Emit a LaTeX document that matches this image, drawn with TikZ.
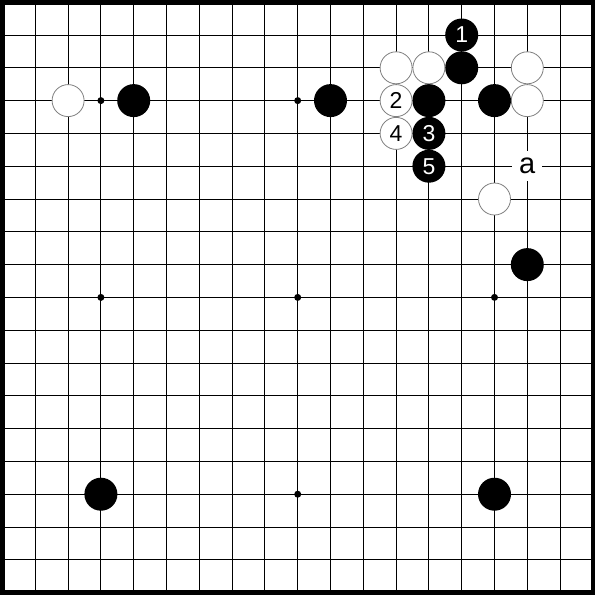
\documentclass[tikz,border=0pt]{standalone}
\usepackage{fontspec}
\setmainfont{Liberation Sans}
\tikzset{
  gridline/.style={line width=0.9pt, black},
  boardedge/.style={line width=4.6pt, black},
  bstone/.style={circle, fill=black, minimum size=33pt, inner sep=0pt, text=white, font=\fontsize{23}{23}\selectfont},
  wstone/.style={circle, fill=white, draw=black!50, line width=0.8pt, minimum size=32pt, inner sep=0pt, text=black, font=\fontsize{23}{23}\selectfont},
  hoshi/.style={circle, fill=black, minimum size=7pt, inner sep=0pt},
  marklabel/.style={fill=white, minimum size=30pt, inner sep=0pt, font=\fontsize{29}{29}\selectfont}
}
\begin{document}
\begin{tikzpicture}[x=32.8pt,y=-32.8pt]
\useasboundingbox[fill=white] (0.9238,0.9329) rectangle +(596pt,-595pt);
% grid
\foreach \i in {2,...,18} {
  \draw[gridline] (\i,1) -- (\i,19);
  \draw[gridline] (1,\i) -- (19,\i);
}
\draw[boardedge] (1,1) rectangle (19,19);
% star points
\foreach \x/\y [count=\k] in {4/4,10/4,16/4,4/10,10/10,16/10,4/16,10/16,16/16}
  \node[hoshi] (h\k) at (\x,\y) {};
% label a
\node[marklabel] (a) at (17,6) {\raisebox{1pt}{a}};
% black stones
\node[bstone] (b1) at (15,2) {1};
\node[bstone] (b2) at (15,3) {};
\node[bstone] (b3) at (5,4) {};
\node[bstone] (b4) at (11,4) {};
\node[bstone] (b5) at (14,4) {};
\node[bstone] (b6) at (16,4) {};
\node[bstone] (b7) at (14,5) {3};
\node[bstone] (b8) at (14,6) {5};
\node[bstone] (b9) at (17,9) {};
\node[bstone] (b10) at (4,16) {};
\node[bstone] (b11) at (16,16) {};
% white stones
\node[wstone] (w1) at (13,3) {};
\node[wstone] (w2) at (14,3) {};
\node[wstone] (w3) at (17,3) {};
\node[wstone] (w4) at (3,4) {};
\node[wstone] (w5) at (13,4) {2};
\node[wstone] (w6) at (17,4) {};
\node[wstone] (w7) at (13,5) {4};
\node[wstone] (w8) at (16,7) {};
\end{tikzpicture}
\end{document}
